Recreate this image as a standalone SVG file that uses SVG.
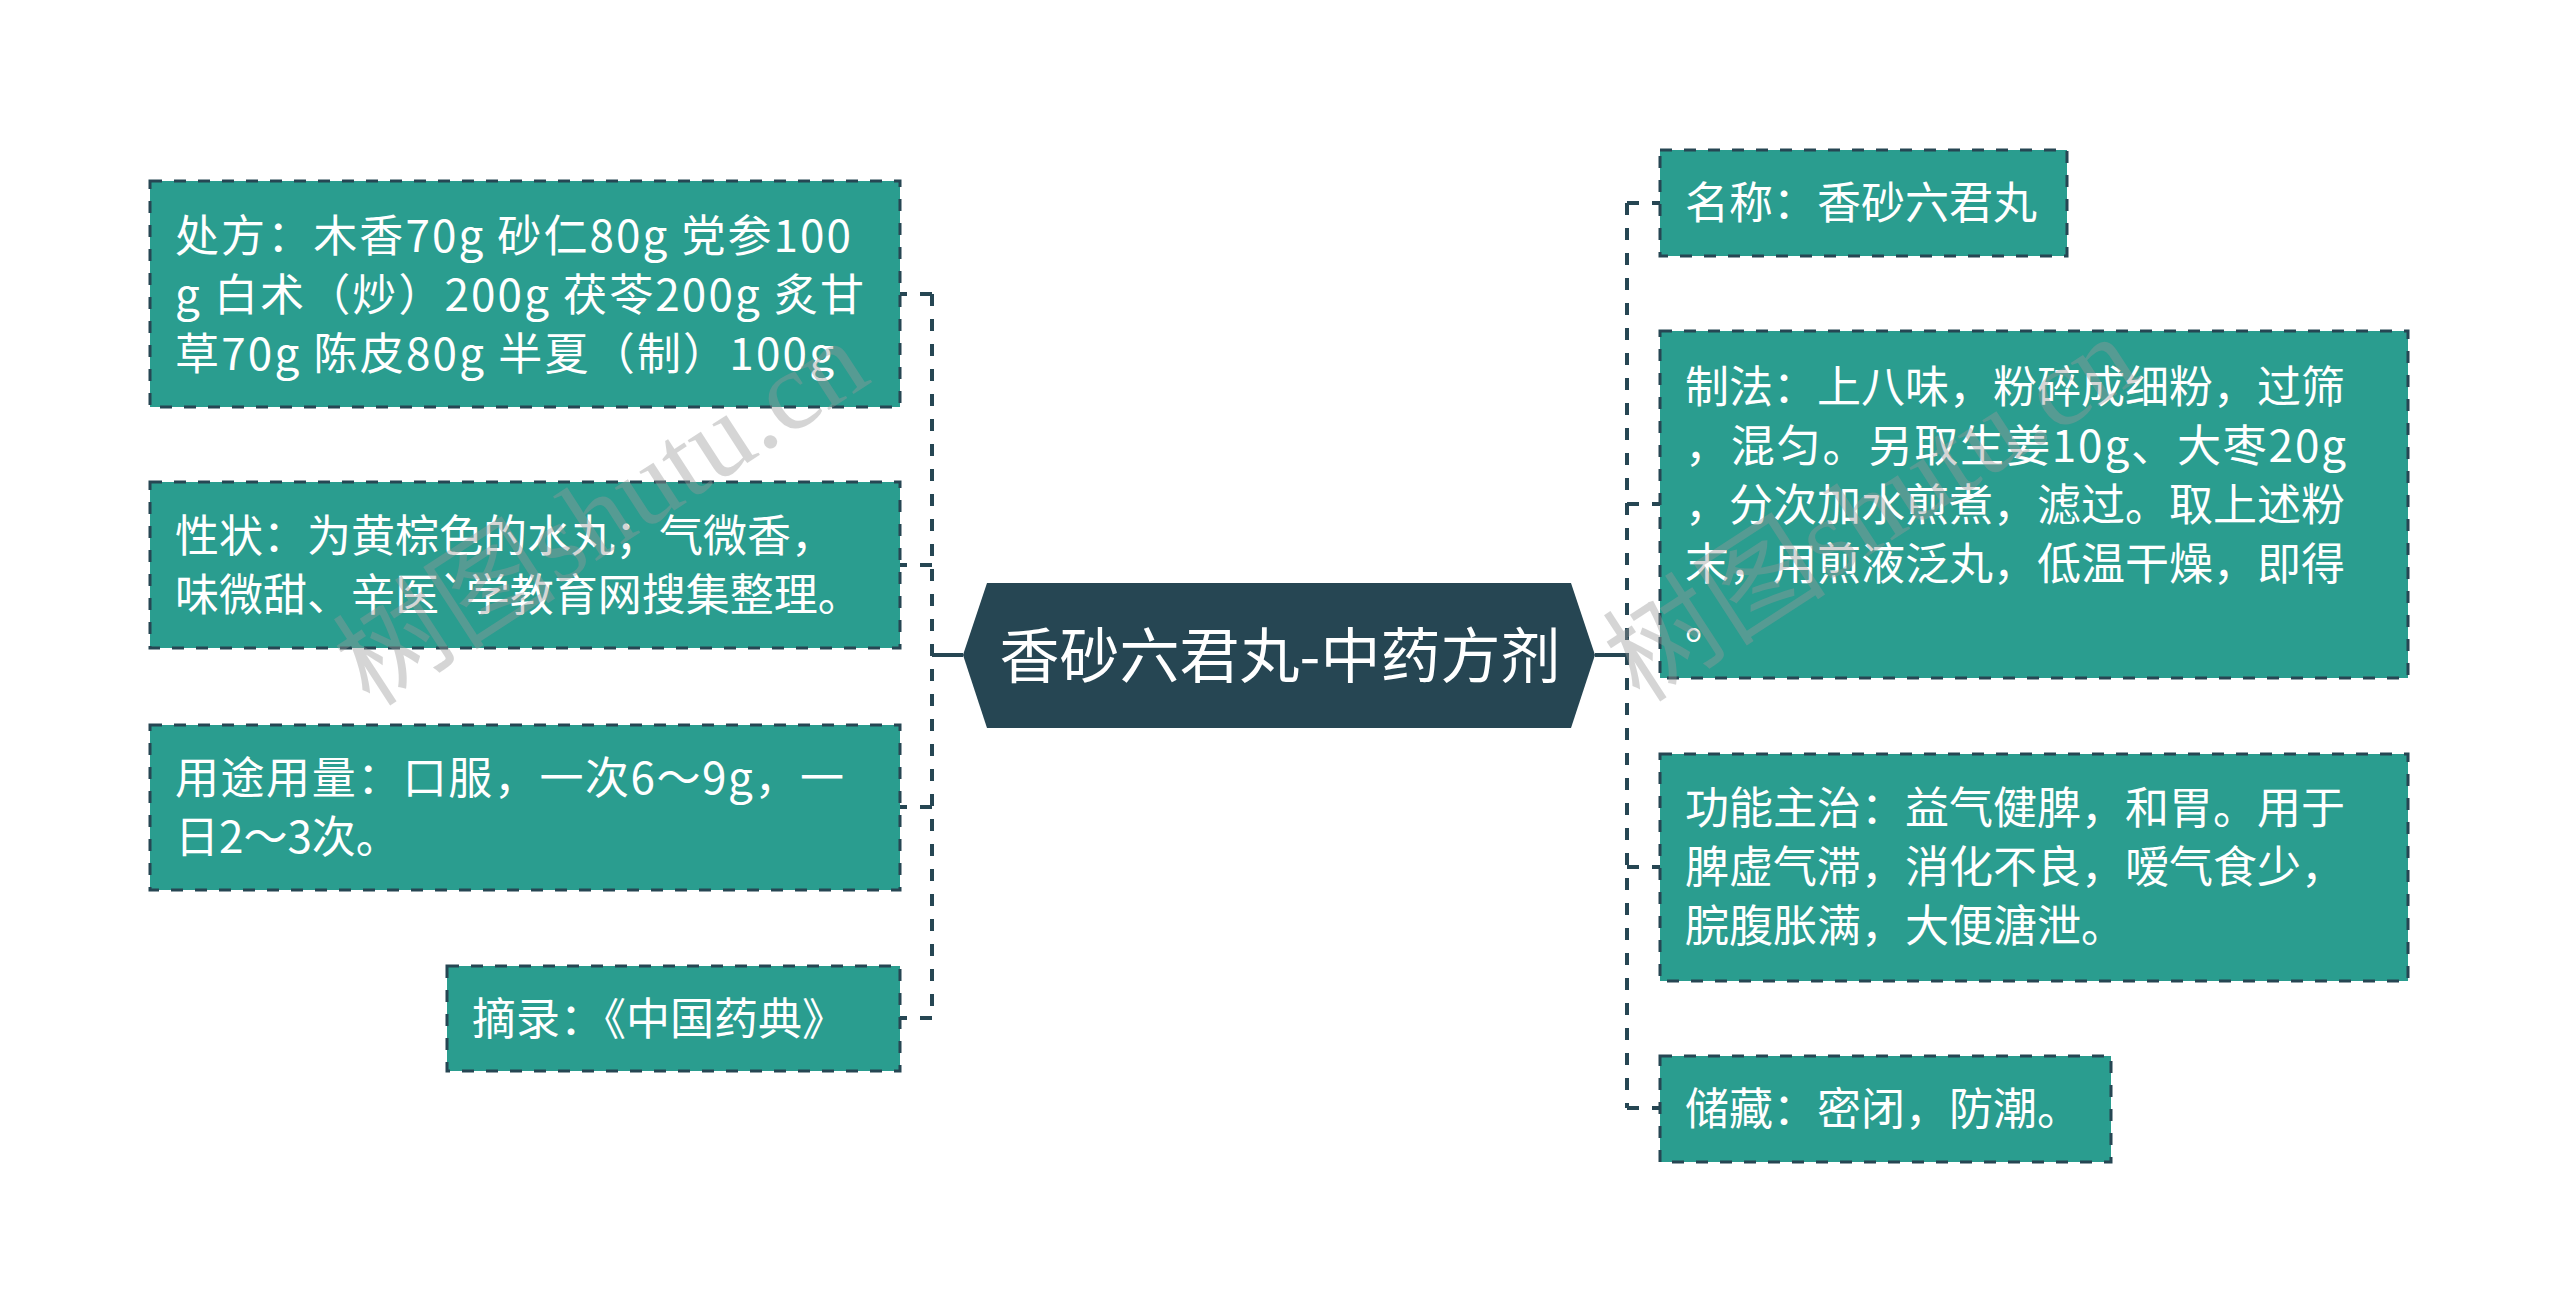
<svg xmlns="http://www.w3.org/2000/svg" width="2560" height="1312" viewBox="0 0 2560 1312">
<style>
.box{fill:#2a9d8f;stroke:#264653;stroke-width:3;stroke-dasharray:12 12}
.t{font-family:"Noto Sans CJK SC","Noto Sans",sans-serif;font-size:44px;fill:#ffffff}
.ct{font-family:"Noto Sans CJK SC","Noto Sans",sans-serif;font-size:60px;fill:#ffffff;text-anchor:middle}
.dash{fill:none;stroke:#264653;stroke-width:4;stroke-dasharray:12 13}
.solid{fill:none;stroke:#264653;stroke-width:4}
.wm{font-family:"Liberation Serif","Noto Sans CJK SC",serif;font-size:112px;fill:#999999;opacity:0.4}
</style>
<rect width="2560" height="1312" fill="#ffffff"/>
<g id="connectors">
<path class="solid" d="M963 655 H932"/>
<path class="dash" d="M932 294 V1018"/>
<path class="dash" d="M932 294 H900"/>
<path class="dash" d="M932 565 H900"/>
<path class="dash" d="M932 807 H900"/>
<path class="dash" d="M932 1018 H900"/>
<path class="solid" d="M1595 655 H1627"/>
<path class="dash" d="M1627 203 V1108"/>
<path class="dash" d="M1627 203 H1660"/>
<path class="dash" d="M1627 504 H1660"/>
<path class="dash" d="M1627 867 H1660"/>
<path class="dash" d="M1627 1108 H1660"/>
</g>
<g id="center">
<polygon points="963,655 987,583 1571,583 1595,655 1571,728 987,728" fill="#264653"/>
<text class="ct" x="1280" y="678">香砂六君丸-中药方剂</text>
</g>
<g id="node-chufang">
<rect class="box" x="150" y="181" width="750" height="226"/>
<text class="t" x="175" y="252" textLength="676" lengthAdjust="spacing">处方：木香70g 砂仁80g 党参100</text>
<text class="t" x="175" y="311" textLength="689" lengthAdjust="spacing">g 白术（炒）200g 茯苓200g 炙甘</text>
<text class="t" x="175" y="370" textLength="659" lengthAdjust="spacing">草70g 陈皮80g 半夏（制）100g</text>
</g>
<g id="node-xingzhuang">
<rect class="box" x="150" y="482" width="750" height="166"/>
<text class="t" x="175" y="552">性状：为黄棕色的水丸；气微香，</text>
<text class="t" x="175" y="611">味微甜、辛医`学教育网搜集整理。</text>
</g>
<g id="node-yongtu">
<rect class="box" x="150" y="725" width="750" height="165"/>
<text class="t" x="175" y="794" textLength="669" lengthAdjust="spacing">用途用量：口服，一次6～9g，一</text>
<text class="t" x="175" y="853">日2～3次。</text>
</g>
<g id="node-zhailu">
<rect class="box" x="447" y="966" width="453" height="105"/>
<text class="t" x="472" y="1035">摘录：《中国药典》</text>
</g>
<g id="node-mingcheng">
<rect class="box" x="1660" y="150" width="407" height="106"/>
<text class="t" x="1685" y="219">名称：香砂六君丸</text>
</g>
<g id="node-zhifa">
<rect class="box" x="1660" y="331" width="748" height="347"/>
<text class="t" x="1685" y="403">制法：上八味，粉碎成细粉，过筛</text>
<text class="t" x="1685" y="462" textLength="661" lengthAdjust="spacing">，混匀。另取生姜10g、大枣20g</text>
<text class="t" x="1685" y="521">，分次加水煎煮，滤过。取上述粉</text>
<text class="t" x="1685" y="580">末，用煎液泛丸，低温干燥，即得</text>
<text class="t" x="1685" y="639">。</text>
</g>
<g id="node-gongneng">
<rect class="box" x="1660" y="754" width="748" height="227"/>
<text class="t" x="1685" y="824">功能主治：益气健脾，和胃。用于</text>
<text class="t" x="1685" y="883">脾虚气滞，消化不良，嗳气食少，</text>
<text class="t" x="1685" y="942">脘腹胀满，大便溏泄。</text>
</g>
<g id="node-chucang">
<rect class="box" x="1660" y="1056" width="451" height="106"/>
<text class="t" x="1685" y="1125">储藏：密闭，防潮。</text>
</g>
<g id="watermark">
<text class="wm" transform="translate(370,708) rotate(-33)">树图shutu.cn</text>
<text class="wm" transform="translate(1640,704) rotate(-33)">树图shutu.cn</text>
</g>
</svg>
